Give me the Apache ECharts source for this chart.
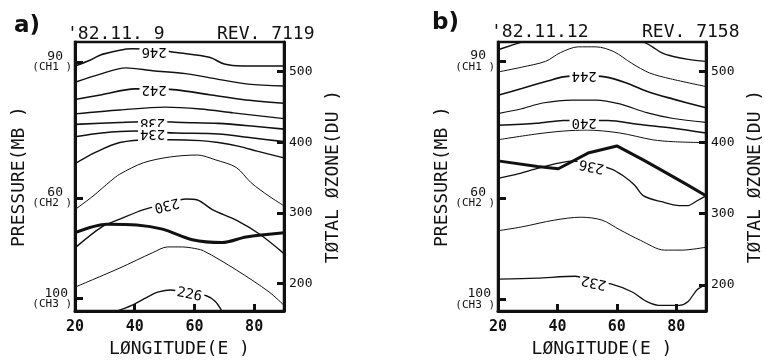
<!DOCTYPE html>
<html><head><meta charset="utf-8">
<script src="https://cdn.jsdelivr.net/npm/echarts@6/dist/echarts.min.js"></script>
<style>html,body{margin:0;padding:0;background:#fff}#c{width:765px;height:363px}</style>
</head><body><div id="c"></div>
<script>
// ---------- data ----------
const lonLabels = [20, 40, 60, 80];
const lonTicks = [40, 60, 80];
const ozoneTicks = [200, 300, 400, 500];
const pressLabels = ['90', '60', '100'];
const chanLabels = ['(CH1 )', '(CH2 )', '(CH3 )'];
const pressLevelsA = [260, 118, 13];
const pressLevelsB = [258, 117, 12];

// panel a contours: [longitude, level]
const contourA1 = [[20,256],[25,262],[29,268],[39,274],[47,273],[54,270],[65,265],[70,258],[76,256],[90,256]];
const contourA2 = [[20,239],[29,248],[37,254],[46,251],[57,248],[68,242],[78,237],[90,235]];
const contourA3 = [[20,221],[29,226],[40,232],[47,232],[54,231],[65,226],[76,221],[90,217]];
const contourA4 = [[20,206],[35,210],[50,213],[62,211],[73,207],[90,201]];
const contourA5 = [[20,195],[35,197],[46,198],[56,197],[68,196],[80,193],[90,190]];
const contourA6 = [[20,182],[29,186],[40,188],[47,187],[54,186],[68,185],[79,181],[90,177]];
const contourA7 = [[20,154],[27,166],[35,176],[45,179],[52,179],[62,178],[68,176],[75,172],[81,167],[90,160]];
const contourA8 = [[20,106],[26,120],[32,136],[35,143],[43,155],[52,161],[61,163],[67,158],[74,150],[79,134],[85,120],[90,110]];
const contourA9 = [[20,66],[29,88],[35,96],[43,106],[51,112],[57,117],[61,116],[66,106],[74,95],[82,80],[90,60]];
const contourA10 = [[20,25],[35,45],[46,61],[51,67],[56,67],[59,66],[63,63],[74,43],[85,20],[90,6]];
const contourA11 = [[34,0],[39,6],[45,16],[48,20],[52,22],[58,19],[64,16],[67,10],[69,1]];
const contourLabelsA = [[46.5,271,'246'],[46.5,231,'242'],[46,197,'238'],[46,185,'234'],[50.7,111,'230'],[58.3,17,'226']];
const contourLabelRotA = [180, 180, 180, 180, 194, -12];
const ozoneLonA = [20, 30.7, 40.7, 49.3, 59.3, 69.3, 77.3, 90];
const ozoneA = [272, 284, 283, 277, 262, 258, 266, 272];

// panel b contours
const contourB1a = [[20,270],[25,275],[28,278]];
const contourB1b = [[69,278],[72,273],[75,267],[79,263],[84,260],[90,258]];
const contourB2 = [[20,247],[28,252],[36,258],[41,267],[47,273],[53,273],[59,268],[65,256],[71,246],[78,240],[90,232]];
const contourB3 = [[20,223],[28,230],[37,238],[42,242],[49,243],[56,242],[63,236],[71,226],[79,219],[90,210]];
const contourB4 = [[20,204],[28,209],[35,215],[45,218],[53,218],[61,214],[70,205],[79,199],[90,195]];
const contourB5 = [[20,192],[33,194],[42,197],[49,197],[57,197],[67,193],[79,189],[90,184]];
const contourB6 = [[20,177],[33,183],[42,186],[50,187],[61,184],[72,177],[79,175],[90,174]];
const contourB7 = [[20,137],[27,142],[34,148],[45,155],[51,153],[58,147],[62,140],[66,130],[69,119],[75,113],[81,109],[84,109],[87,114],[90,119]];
const contourB8 = [[20,83],[28,87],[39,94],[48,97],[55,94],[61,84],[68,73],[76,63],[82,63],[90,66]];
const contourB9 = [[20,33],[33,34],[46,36],[52,31],[58,28],[65,20],[70,10],[74,6],[81,6],[84,10],[87,22],[90,27]];
const contourLabelsB = [[49,243,'244'],[49,195,'240'],[51.5,150,'236'],[52.3,30,'232']];
const contourLabelRotB = [180, 180, 168, 168];
const ozoneLonB = [20, 33.3, 40.3, 50.3, 60, 69, 75, 83, 90];
const ozoneB = [374, 366, 363, 385, 395, 375, 361, 342, 325];

// ---------- chart ----------
const MONO = 'DejaVu Sans Mono';
const INK = '#111';
const chart = echarts.init(document.getElementById('c'), null, {renderer: 'canvas'});

function contour(data, xi, yi, w) {
  return {type: 'line', xAxisIndex: xi, yAxisIndex: yi, data: data, showSymbol: false,
    smooth: 0.3, silent: true, z: 2, lineStyle: {color: INK, width: w || 1.4}};
}
function ozone(lons, vals, xi, yi, smooth) {
  return {type: 'line', xAxisIndex: xi, yAxisIndex: yi, data: lons.map((l, i) => [l, vals[i]]),
    showSymbol: false, smooth: smooth, silent: true, z: 7, lineStyle: {color: INK, width: 3}};
}
function labels(list, rots, xi, yi) {
  return {type: 'scatter', xAxisIndex: xi, yAxisIndex: yi, symbolSize: 2, silent: true, z: 6,
    itemStyle: {color: '#fff', opacity: 1},
    data: list.map((l, i) => ({value: [l[0], l[1]], name: l[2], label: {rotate: rots[i]}})),
    label: {show: true, position: 'inside', formatter: p => p.name, fontFamily: MONO,
      fontSize: 14, color: '#000', opacity: 1, textBorderWidth: 0, backgroundColor: '#fff', padding: [0, 2]}};
}
function xAxis(gi) {
  return {type: 'value', gridIndex: gi, min: 20, max: 90, position: 'bottom',
    axisLine: {show: true, lineStyle: {color: INK, width: 3}},
    axisTick: {show: true, inside: true, length: 7, customValues: lonTicks, lineStyle: {color: INK, width: 3}},
    axisLabel: {customValues: lonLabels, margin: 9, fontFamily: MONO, fontWeight: 'bold', fontSize: 15, color: INK},
    splitLine: {show: false},
    name: 'LØNGITUDE(E )', nameLocation: 'middle', nameGap: 26,
    nameTextStyle: {fontFamily: MONO, fontSize: 18, color: INK}};
}
function levelAxis(gi, max, levels) {
  return {type: 'value', gridIndex: gi, min: 0, max: max, position: 'left',
    axisLine: {show: true, lineStyle: {color: INK, width: 3}},
    axisTick: {show: true, inside: true, length: 8, customValues: levels, lineStyle: {color: INK, width: 3}},
    axisLabel: {customValues: levels, margin: 3, color: INK, fontFamily: MONO,
      formatter: v => {
        const i = levels.indexOf(v);
        if (i < 0) return '';
        const st = pressLabels[i].length === 3 ? 'q' : 'p';
        return '{' + st + '|' + pressLabels[i] + '}\n{c|' + chanLabels[i] + '}';
      },
      rich: {
        p: {fontFamily: MONO, fontSize: 13, color: INK, padding: [0, 9, 0, 0], lineHeight: 11},
        q: {fontFamily: MONO, fontSize: 13, color: INK, padding: [0, 4, 0, 0], lineHeight: 11},
        c: {fontFamily: MONO, fontSize: 11, color: INK, lineHeight: 11}
      }},
    splitLine: {show: false},
    name: 'PRESSURE(MB )', nameLocation: 'middle', nameRotate: 90, nameGap: 44,
    nameTextStyle: {fontFamily: MONO, fontSize: 18, color: INK}};
}
function ozoneAxis(gi, min, max) {
  return {type: 'value', gridIndex: gi, min: min, max: max, position: 'right',
    axisLine: {show: true, lineStyle: {color: INK, width: 3}},
    axisTick: {show: true, inside: true, length: 7, customValues: ozoneTicks, lineStyle: {color: INK, width: 3}},
    axisLabel: {customValues: ozoneTicks, margin: 5, fontFamily: MONO, fontSize: 13, color: INK},
    splitLine: {show: false},
    name: 'TØTAL ØZONE(DU )', nameLocation: 'middle', nameRotate: 90, nameGap: 40,
    nameTextStyle: {fontFamily: MONO, fontSize: 18, color: INK}};
}

const option = {
  backgroundColor: '#fff',
  animation: false,
  title: [
    {text: 'a)', left: 9, top: 10, textStyle: {fontFamily: 'DejaVu Sans', fontWeight: 'bold', fontSize: 23, color: INK}},
    {text: "'82.11. 9", left: 62, top: 20, textStyle: {fontFamily: MONO, fontWeight: 'normal', fontSize: 18, color: INK}},
    {text: 'REV. 7119', left: 212, top: 20, textStyle: {fontFamily: MONO, fontWeight: 'normal', fontSize: 18, color: INK}},
    {text: 'b)', left: 427, top: 7, textStyle: {fontFamily: 'DejaVu Sans', fontWeight: 'bold', fontSize: 23, color: INK}},
    {text: "'82.11.12", left: 486, top: 18, textStyle: {fontFamily: MONO, fontWeight: 'normal', fontSize: 18, color: INK}},
    {text: 'REV. 7158', left: 637, top: 18, textStyle: {fontFamily: MONO, fontWeight: 'normal', fontSize: 18, color: INK}}
  ],
  grid: [
    {left: 75, top: 42, width: 209, height: 281, show: true, borderColor: INK, borderWidth: 2.5, backgroundColor: 'transparent'},
    {left: 498, top: 42, width: 210, height: 278, show: true, borderColor: INK, borderWidth: 2.5, backgroundColor: 'transparent'}
  ],
  xAxis: [xAxis(0), xAxis(1)],
  yAxis: [levelAxis(0, 281, pressLevelsA), ozoneAxis(0, 161, 542), levelAxis(1, 278, pressLevelsB), ozoneAxis(1, 163, 541)],
  series: [
    contour(contourA1, 0, 0, 1.6), contour(contourA2, 0, 0, 1.4), contour(contourA3, 0, 0, 1.6),
    contour(contourA4, 0, 0, 1.4), contour(contourA5, 0, 0, 1.6), contour(contourA6, 0, 0, 1.6),
    contour(contourA7, 0, 0, 1.4), contour(contourA8, 0, 0, 1.0), contour(contourA9, 0, 0, 1.4),
    contour(contourA10, 0, 0, 1.0), contour(contourA11, 0, 0, 1.4),
    ozone(ozoneLonA, ozoneA, 0, 1, 0.3),
    labels(contourLabelsA, contourLabelRotA, 0, 0),
    contour(contourB1a, 1, 2, 1.4), contour(contourB1b, 1, 2, 1.4), contour(contourB2, 1, 2, 1.0),
    contour(contourB3, 1, 2, 1.6), contour(contourB4, 1, 2, 1.2), contour(contourB5, 1, 2, 1.5),
    contour(contourB6, 1, 2, 1.0), contour(contourB7, 1, 2, 1.3), contour(contourB8, 1, 2, 1.0),
    contour(contourB9, 1, 2, 1.3),
    ozone(ozoneLonB, ozoneB, 1, 3, false),
    labels(contourLabelsB, contourLabelRotB, 1, 2)
  ]
};
chart.setOption(option);
</script></body></html>
